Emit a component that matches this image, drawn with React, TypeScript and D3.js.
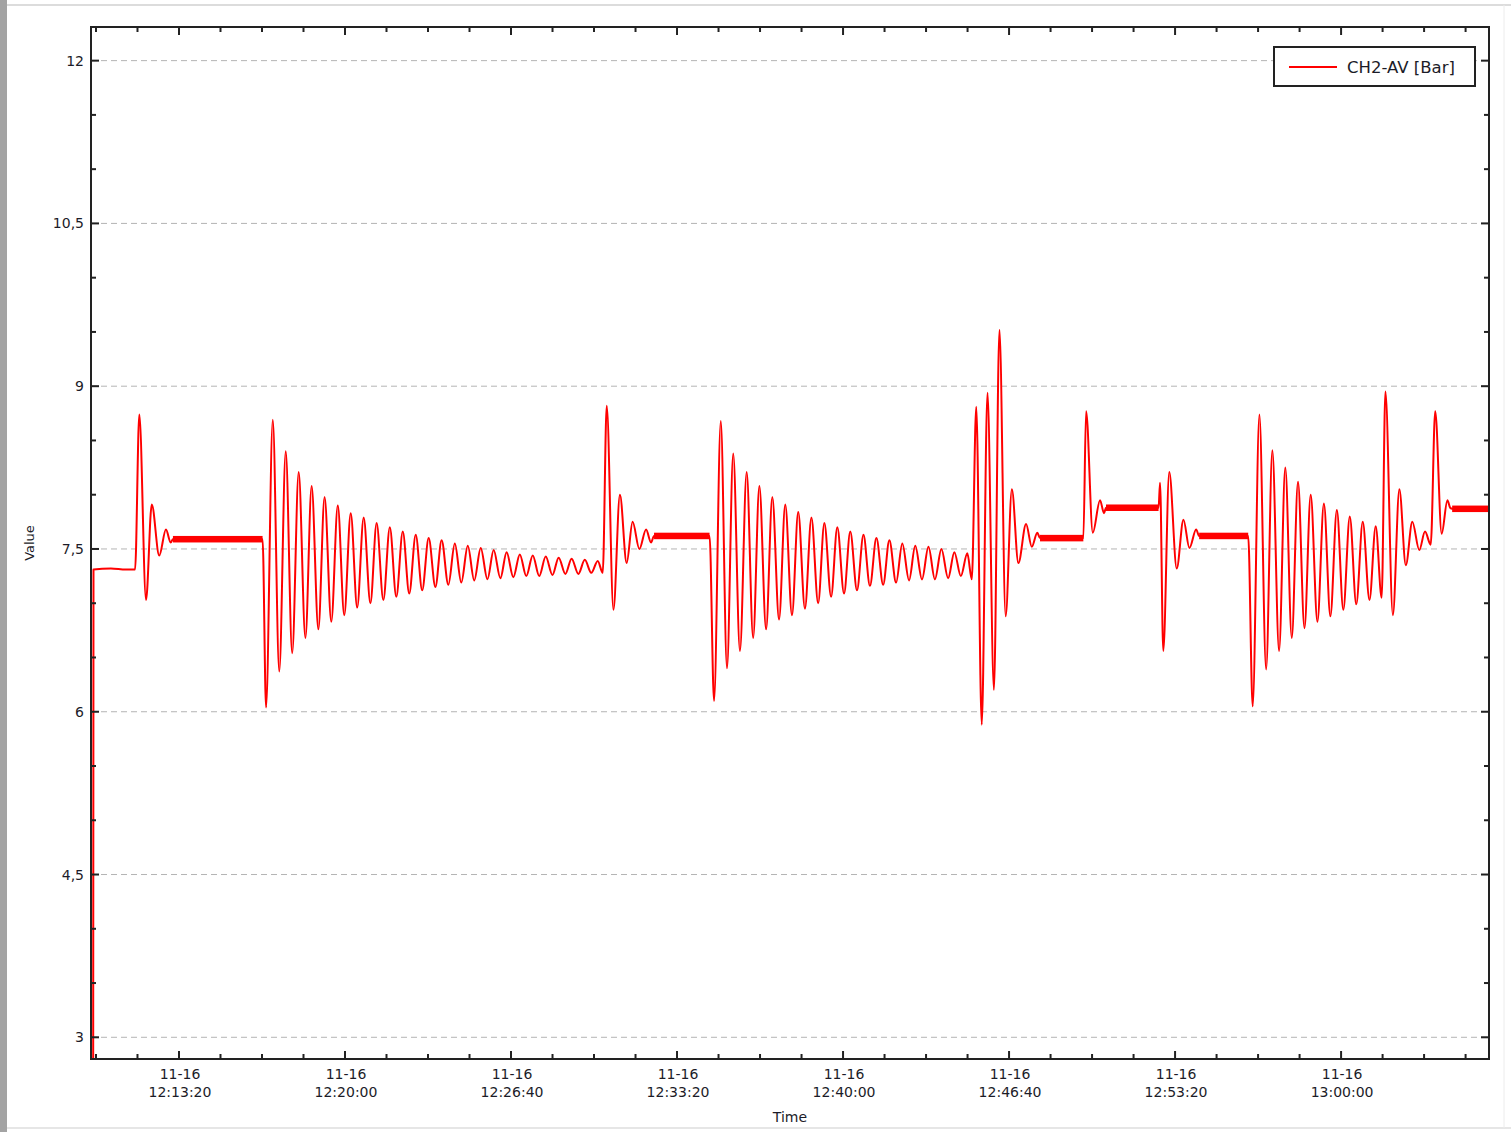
import React from 'react';
import * as d3 from 'd3';

// time values are minutes after 12:00 on 11-16, values in bar
const startup: [number, number][] = [
  [9.88, 0], [9.9, 7.31], [10.6, 7.32], [11.2, 7.31], [11.57, 7.31],
  [11.74, 8.74], [12.01, 7.03], [12.24, 7.91], [12.54, 7.44], [12.81, 7.68],
  [13.0, 7.56], [13.09, 7.59], [16.69, 7.59],
];

const burst1: [number, number][] = [
  [16.83, 6.04], [17.1, 8.69], [17.36, 6.37], [17.62, 8.4], [17.88, 6.54],
  [18.14, 8.21], [18.41, 6.68], [18.66, 8.08], [18.93, 6.76], [19.18, 7.98],
  [19.45, 6.83], [19.71, 7.9], [19.97, 6.89], [20.23, 7.83], [20.49, 6.96],
  [20.75, 7.79], [21.02, 7.0], [21.27, 7.74], [21.54, 7.03], [21.8, 7.7],
  [22.06, 7.06], [22.32, 7.66], [22.58, 7.09], [22.84, 7.63], [23.1, 7.12],
  [23.36, 7.6], [23.63, 7.15], [23.88, 7.58], [24.15, 7.17], [24.41, 7.55],
  [24.67, 7.19], [24.93, 7.53], [25.19, 7.21], [25.45, 7.51], [25.72, 7.22],
  [25.97, 7.49], [26.24, 7.23], [26.49, 7.47], [26.76, 7.24], [27.02, 7.45],
  [27.28, 7.25], [27.54, 7.44], [27.8, 7.25], [28.06, 7.43], [28.33, 7.26],
  [28.58, 7.42], [28.85, 7.27], [29.1, 7.41], [29.37, 7.27], [29.63, 7.4],
  [29.89, 7.28], [30.15, 7.39], [30.35, 7.28],
];

const settle1: [number, number][] = [
  [30.51, 8.82], [30.78, 6.94], [31.04, 8.0], [31.31, 7.37], [31.55, 7.75],
  [31.82, 7.5], [32.09, 7.68], [32.29, 7.56], [32.41, 7.62], [34.64, 7.62],
];

const burst2: [number, number][] = [
  [34.82, 6.1], [35.09, 8.68], [35.34, 6.4], [35.59, 8.38], [35.86, 6.56],
  [36.13, 8.21], [36.39, 6.68], [36.64, 8.08], [36.91, 6.76], [37.16, 7.98],
  [37.43, 6.85], [37.68, 7.91], [37.95, 6.89], [38.2, 7.84], [38.47, 6.95],
  [38.73, 7.79], [39.0, 7.0], [39.25, 7.74], [39.52, 7.06], [39.77, 7.7],
  [40.04, 7.09], [40.29, 7.66], [40.56, 7.12], [40.82, 7.63], [41.08, 7.16],
  [41.34, 7.6], [41.61, 7.17], [41.86, 7.58], [42.13, 7.19], [42.38, 7.55],
  [42.65, 7.21], [42.9, 7.53], [43.17, 7.22], [43.43, 7.52], [43.69, 7.22],
  [43.95, 7.5], [44.22, 7.23], [44.47, 7.47], [44.73, 7.25], [44.99, 7.46],
  [45.17, 7.22],
];

const shock: [number, number][] = [
  [45.35, 8.81], [45.57, 5.88], [45.8, 8.94], [46.06, 6.2], [46.28, 9.52],
  [46.53, 6.88], [46.78, 8.05], [47.04, 7.37], [47.35, 7.73], [47.58, 7.52],
  [47.8, 7.65], [47.91, 7.6], [49.65, 7.6],
];

const stepUp: [number, number][] = [
  [49.76, 8.77], [50.03, 7.65], [50.32, 7.95], [50.48, 7.83], [50.56, 7.88],
  [52.67, 7.88],
];

const stepDown: [number, number][] = [
  [52.73, 8.11], [52.86, 6.56], [53.1, 8.21], [53.4, 7.32], [53.67, 7.77],
  [53.91, 7.51], [54.18, 7.68], [54.3, 7.62], [56.27, 7.62],
];

const burst3: [number, number][] = [
  [56.45, 6.05], [56.72, 8.74], [56.99, 6.39], [57.24, 8.41], [57.51, 6.56],
  [57.76, 8.25], [58.02, 6.68], [58.27, 8.12], [58.53, 6.77], [58.78, 8.0],
  [59.05, 6.83], [59.31, 7.92], [59.57, 6.88], [59.83, 7.86], [60.09, 6.94],
  [60.35, 7.8], [60.61, 6.99], [60.87, 7.75], [61.14, 7.03], [61.39, 7.71],
  [61.63, 7.05], [61.78, 8.95], [62.08, 6.89], [62.34, 8.05], [62.6, 7.35],
  [62.86, 7.75], [63.14, 7.49], [63.37, 7.66], [63.6, 7.54], [63.78, 8.77],
  [64.04, 7.64], [64.27, 7.95], [64.38, 7.88], [64.46, 7.87], [65.94, 7.87],
];

// noisy steady-state stretches: [start, end, level, noise half-spread]
const plateaus: [number, number, number, number][] = [
  [13.09, 16.69, 7.59, 0.03],
  [32.41, 34.64, 7.62, 0.03],
  [47.91, 49.65, 7.6, 0.03],
  [50.56, 52.67, 7.88, 0.03],
  [54.3, 56.27, 7.62, 0.03],
  [64.46, 65.94, 7.87, 0.03],
];

const yTickLabels = ['3', '4,5', '6', '7,5', '9', '10,5', '12'];
const xTickLabels = ['12:13:20', '12:20:00', '12:26:40', '12:33:20', '12:40:00', '12:46:40', '12:53:20', '13:00:00'];
const xDateLabel = '11-16';
const xDomainMin: [number, number] = [9.8, 65.94];
const yDomain: [number, number] = [2.8, 12.31];
const seriesName = 'CH2-AV [Bar]';

const BASE = new Date(2023, 10, 16, 12, 0, 0).getTime();
const toDate = (m: number) => new Date(BASE + m * 60000);
const parseClock = (s: string) => {
  const [h, mi, se] = s.split(':').map(Number);
  return new Date(2023, 10, 16, h, mi, se);
};

const W = 1511;
const H = 1132;
const left = 91;
const right = 1489;
const top = 27;
const bottom = 1059;
const font = "'DejaVu Sans', Verdana, sans-serif";
const txt = '#1c1c28';

export default function App() {
  const x = d3.scaleTime().domain(xDomainMin.map(toDate)).range([left, right]);
  const y = d3.scaleLinear().domain(yDomain).range([bottom, top]);

  const all = [...startup, ...burst1, ...settle1, ...burst2, ...shock, ...stepUp, ...stepDown, ...burst3];
  const line = d3.line<[number, number]>()
    .x(d => x(toDate(d[0])))
    .y(d => y(d[1]))
    .curve(d3.curveMonotoneX);

  const yMajor = yTickLabels.map(s => +s.replace(',', '.'));
  const yMinor = d3.range(3, 12.31, 0.5).filter(v => !yMajor.some(m => Math.abs(m - v) < 1e-6));

  const xMajor = xTickLabels.map(parseClock);
  const first = xMajor[0].getTime();
  const [d0, d1] = x.domain().map(d => d.getTime());
  const xMinor = d3.range(-10, 40)
    .map(k => first + k * 100000)
    .filter(t => t >= d0 && t <= d1 && (t - first) % 400000 !== 0)
    .map(t => new Date(t));

  return (
    <svg width={W} height={H} style={{ position: 'absolute', left: 0, top: 0, background: '#fff' }}>
      <rect x={0} y={0} width={W} height={H} fill="#fff" />
      <rect x={0} y={0} width={7} height={H} fill="#a3a3a3" />
      <line x1={7} x2={W} y1={5} y2={5} stroke="#dcdcdc" strokeWidth={2} />
      <line x1={7} x2={W} y1={1128} y2={1128} stroke="#e6e6e6" strokeWidth={2} />
      <line x1={1504} x2={1504} y1={5} y2={1128} stroke="#ececec" strokeWidth={1} />

      <defs>
        <clipPath id="plot">
          <rect x={left} y={top} width={right - left} height={bottom - top} />
        </clipPath>
      </defs>

      {yMajor.map(v => (
        <line key={'g' + v} x1={left} x2={right} y1={y(v)} y2={y(v)}
          stroke="#b4b4b4" strokeWidth={1} strokeDasharray="6,4" />
      ))}

      <g clipPath="url(#plot)">
        <path d={line(all) || ''} fill="none" stroke="#ff0000" strokeWidth={2} strokeLinejoin="round" />
        {plateaus.map((p, i) => (
          <rect key={i} x={x(toDate(p[0]))} width={x(toDate(p[1])) - x(toDate(p[0]))}
            y={y(p[2] + p[3])} height={y(p[2] - p[3]) - y(p[2] + p[3])} fill="#ff0000" />
        ))}
      </g>

      <rect x={left} y={top} width={right - left} height={bottom - top} fill="none" stroke="#222" strokeWidth={2} />

      {yMajor.map(v => (
        <g key={'ym' + v}>
          <line x1={left} x2={left + 8} y1={y(v)} y2={y(v)} stroke="#222" strokeWidth={2} />
          <line x1={right} x2={right - 8} y1={y(v)} y2={y(v)} stroke="#222" strokeWidth={2} />
        </g>
      ))}
      {yMinor.map(v => (
        <g key={'yn' + v}>
          <line x1={left} x2={left + 5} y1={y(v)} y2={y(v)} stroke="#222" strokeWidth={2} />
          <line x1={right} x2={right - 5} y1={y(v)} y2={y(v)} stroke="#222" strokeWidth={2} />
        </g>
      ))}
      {xMajor.map((d, i) => (
        <g key={'xm' + i}>
          <line x1={x(d)} x2={x(d)} y1={bottom} y2={bottom - 8} stroke="#222" strokeWidth={2} />
          <line x1={x(d)} x2={x(d)} y1={top} y2={top + 8} stroke="#222" strokeWidth={2} />
        </g>
      ))}
      {xMinor.map((d, i) => (
        <g key={'xn' + i}>
          <line x1={x(d)} x2={x(d)} y1={bottom} y2={bottom - 5} stroke="#222" strokeWidth={2} />
          <line x1={x(d)} x2={x(d)} y1={top} y2={top + 5} stroke="#222" strokeWidth={2} />
        </g>
      ))}

      {yTickLabels.map((s, i) => (
        <text key={'yl' + s} x={84} y={y(yMajor[i]) + 5} textAnchor="end"
          fontFamily={font} fontSize={14} fill={txt}>{s}</text>
      ))}
      {xTickLabels.map((s, i) => (
        <g key={'xl' + s} fontFamily={font} fontSize={14} fill={txt} textAnchor="middle">
          <text x={x(xMajor[i]) + 1} y={1079}>{xDateLabel}</text>
          <text x={x(xMajor[i]) + 1} y={1097}>{s}</text>
        </g>
      ))}

      <text x={790} y={1122} textAnchor="middle" fontFamily={font} fontSize={14} fill={txt}>Time</text>
      <text transform="translate(34,543) rotate(-90)" textAnchor="middle" fontFamily={font} fontSize={13} fill={txt}>Value</text>

      <g>
        <rect x={1274} y={47} width={201} height={39} fill="#fff" stroke="#222" strokeWidth={2} />
        <line x1={1289} x2={1337} y1={67} y2={67} stroke="#ff0000" strokeWidth={1.8} />
        <text x={1347} y={73} fontFamily={font} fontSize={16.5} fill={txt}>{seriesName}</text>
      </g>
    </svg>
  );
}
